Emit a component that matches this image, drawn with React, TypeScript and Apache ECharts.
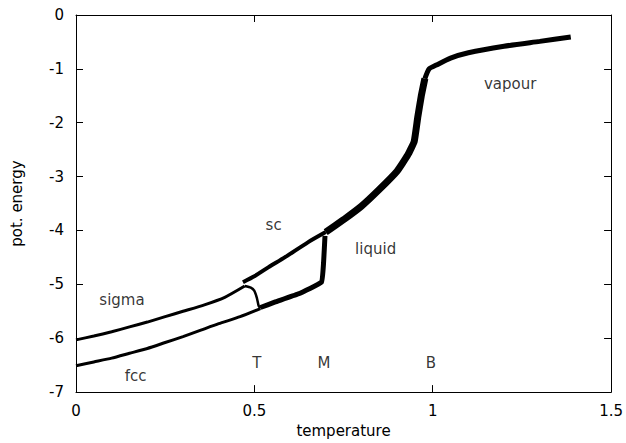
import React, { useEffect, useRef } from "react";
import * as echarts from "echarts";

// temperature, potential energy
const sigmaBranch: [number, number][] = [
  [0, -6.03], [0.05, -5.96], [0.1, -5.88], [0.15, -5.79], [0.2, -5.7], [0.25, -5.6],
  [0.3, -5.5], [0.36, -5.38], [0.417, -5.24], [0.473, -5.03],
];
const sigmaDrop: [number, number][] = [
  [0.473, -5.03], [0.49, -5.06], [0.5, -5.12], [0.507, -5.25], [0.512, -5.4], [0.517, -5.45],
];
const fccBranch: [number, number][] = [
  [0, -6.51], [0.05, -6.44], [0.1, -6.37], [0.15, -6.28], [0.2, -6.19], [0.25, -6.08],
  [0.3, -5.97], [0.35, -5.85], [0.4, -5.73], [0.46, -5.6], [0.517, -5.45],
];
const fccSuperheated: [number, number][] = [
  [0.517, -5.43], [0.557, -5.33], [0.622, -5.18], [0.688, -4.96], [0.694, -4.6], [0.698, -4.1],
];
const scBranch: [number, number][] = [
  [0.468, -4.96], [0.5, -4.85], [0.54, -4.68], [0.585, -4.5], [0.65, -4.22], [0.7, -4.03],
];
const liquidBranch: [number, number][] = [
  [0.7, -4.03], [0.75, -3.8], [0.8, -3.55], [0.85, -3.24], [0.9, -2.9], [0.93, -2.6],
  [0.948, -2.35], [0.958, -1.9], [0.968, -1.5], [0.978, -1.18],
];
const vapourBranch: [number, number][] = [
  [0.978, -1.18], [0.99, -1.0], [1.01, -0.93], [1.05, -0.8], [1.1, -0.7], [1.2, -0.58],
  [1.3, -0.49], [1.387, -0.41],
];
const annotations: { name: string; value: [number, number] }[] = [
  { name: "sigma", value: [0.129, -5.29] },
  { name: "fcc", value: [0.167, -6.71] },
  { name: "sc", value: [0.554, -3.9] },
  { name: "liquid", value: [0.84, -4.35] },
  { name: "vapour", value: [1.217, -1.29] },
  { name: "T", value: [0.507, -6.46] },
  { name: "M", value: [0.695, -6.46] },
  { name: "B", value: [0.995, -6.46] },
];
const xTicks = { min: 0, max: 1.5, interval: 0.5 };
const yTicks = { min: -7, max: 0, interval: 1 };

const FONT = "DejaVu Sans";

export default function App() {
  const ref = useRef<HTMLDivElement>(null);
  useEffect(() => {
    document.body.style.margin = "0";
    if (!ref.current) return;
    const chart = echarts.init(ref.current, undefined, { renderer: "svg" });
    const axisLine = { show: true, onZero: false, lineStyle: { color: "#000", width: 1 } };
    const axisTick = { show: true, inside: true, length: 7, lineStyle: { color: "#000", width: 1 } };
    const lineSeries = (data: [number, number][], width: number, smooth = 0.2) => ({
      type: "line",
      data,
      showSymbol: false,
      symbol: "none",
      smooth,
      lineStyle: { color: "#000", width },
      xAxisIndex: 0,
      yAxisIndex: 0,
      silent: true,
    });
    chart.setOption({
      animation: false,
      backgroundColor: "#fff",
      textStyle: { fontFamily: FONT },
      grid: { left: 76, right: 14, top: 15, bottom: 47 },
      xAxis: [
        {
          type: "value",
          ...xTicks,
          position: "bottom",
          name: "temperature",
          nameLocation: "middle",
          nameGap: 28,
          nameTextStyle: { fontFamily: FONT, fontSize: 15, color: "#000" },
          axisLine,
          axisTick,
          splitLine: { show: false },
          axisLabel: { fontFamily: FONT, fontSize: 15, color: "#000", margin: 11 },
        },
        {
          type: "value",
          ...xTicks,
          position: "top",
          axisLine,
          axisTick,
          splitLine: { show: false },
          axisLabel: { show: false },
        },
      ],
      yAxis: [
        {
          type: "value",
          ...yTicks,
          position: "left",
          name: "pot. energy",
          nameLocation: "middle",
          nameGap: 52,
          nameTextStyle: { fontFamily: FONT, fontSize: 15, color: "#000" },
          axisLine,
          axisTick,
          splitLine: { show: false },
          axisLabel: { fontFamily: FONT, fontSize: 15, color: "#000", margin: 12 },
        },
        {
          type: "value",
          ...yTicks,
          position: "right",
          axisLine,
          axisTick,
          splitLine: { show: false },
          axisLabel: { show: false },
        },
      ],
      series: [
        lineSeries(sigmaBranch, 3),
        lineSeries(sigmaDrop, 2.5, 0.15),
        lineSeries(fccBranch, 3),
        lineSeries(fccSuperheated, 5, 0.1),
        lineSeries(scBranch, 4),
        lineSeries(liquidBranch, 7, 0.12),
        lineSeries(vapourBranch, 5, 0.2),
        {
          type: "scatter",
          data: annotations,
          symbolSize: 0,
          silent: true,
          label: {
            show: true,
            position: "inside",
            formatter: "{b}",
            fontFamily: FONT,
            fontSize: 15,
            color: "#000",
          },
        },
      ],
    });
    return () => chart.dispose();
  }, []);
  return <div ref={ref} style={{ width: 626, height: 443 }} />;
}
